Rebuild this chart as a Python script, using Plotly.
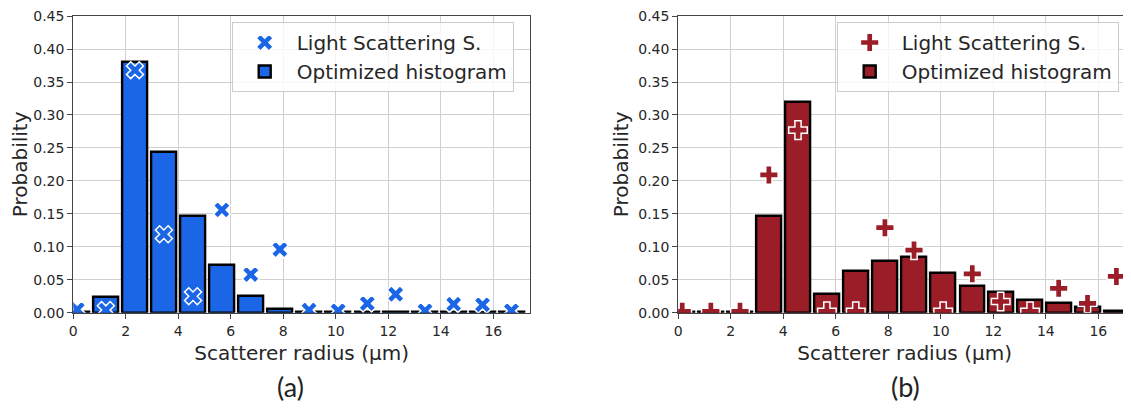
import plotly.graph_objects as go

# ---- data ----
radius = [0.15, 1.24, 2.35, 3.45, 4.56, 5.66, 6.76, 7.87, 8.98, 10.09, 11.2, 12.28, 13.4, 14.49, 15.59, 16.69]

hist_a = [0.001, 0.024, 0.380, 0.244, 0.147, 0.073, 0.026, 0.005, 0.001, 0.001, 0.001, 0.001, 0.001, 0.001, 0.001, 0.001]
lss_a = [0.005, 0.004, 0.368, 0.119, 0.025, 0.156, 0.058, 0.096, 0.004, 0.003, 0.014, 0.028, 0.003, 0.013, 0.012, 0.003]

hist_b = [0.001, 0.001, 0.001, 0.147, 0.319, 0.028, 0.064, 0.078, 0.085, 0.060, 0.041, 0.032, 0.020, 0.014, 0.009, 0.002]
lss_b = [0.002, 0.002, 0.002, 0.209, 0.277, 0.002, 0.002, 0.129, 0.095, 0.002, 0.059, 0.017, 0.002, 0.037, 0.014, 0.055]

y_ticks = [0.0, 0.05, 0.10, 0.15, 0.20, 0.25, 0.30, 0.35, 0.40, 0.45]
x_ticks = [0, 2, 4, 6, 8, 10, 12, 14, 16]

BLUE = "#1a66e6"
RED = "#9b1d27"
FONT = "DejaVu Sans"

fig = go.Figure()

# panel (a)
fig.add_trace(go.Scatter(x=radius, y=lss_a, mode="markers", name="Light Scattering S.",
                         marker=dict(symbol="x", size=15, color=BLUE, line=dict(color="white", width=1.5)),
                         xaxis="x", yaxis="y", legend="legend", cliponaxis=True))
fig.add_trace(go.Bar(x=radius, y=hist_a, width=0.95, name="Optimized histogram",
                     marker=dict(color=BLUE, line=dict(color="black", width=2.4)),
                     xaxis="x", yaxis="y", legend="legend"))

# panel (b)
fig.add_trace(go.Scatter(x=radius, y=lss_b, mode="markers", name="Light Scattering S.",
                         marker=dict(symbol="cross", size=15.5, color=RED, line=dict(color="white", width=1.5)),
                         xaxis="x2", yaxis="y2", legend="legend2", cliponaxis=True))
fig.add_trace(go.Bar(x=radius, y=hist_b, width=0.95, name="Optimized histogram",
                     marker=dict(color=RED, line=dict(color="black", width=2.4)),
                     xaxis="x2", yaxis="y2", legend="legend2"))

# page has an 8px body margin: figure is drawn from (8, 8)
OX, OY = 8, 8
W, H = 1131 - OX, 408 - OY


def px(xp):
    return (xp - OX) / W


def py(yp):
    return (H - (yp - OY)) / H


L1, R1 = 73.3, 530.0
L2, R2 = 678.3, 1131.0
TOP, BOT = 16.0, 312.7

axis_common = dict(
    showgrid=True, gridcolor="#d0d0d0", gridwidth=1,
    showline=True, linecolor="#444444", linewidth=1.2, mirror=True,
    ticks="outside", ticklen=5, tickwidth=1.2, tickcolor="#444444",
    tickfont=dict(family=FONT, size=14, color="#262626"),
    zeroline=False, automargin=False,
)

xcommon = dict(axis_common, tickvals=x_ticks, ticktext=[str(v) for v in x_ticks],
               title=dict(text="Scatterer radius (µm)", font=dict(family=FONT, size=20, color="#262626"), standoff=8))
ycommon = dict(axis_common, range=[0, 0.4502], tickvals=y_ticks, ticktext=[f"{v:.2f}" for v in y_ticks],
               title=dict(text="Probability", font=dict(family=FONT, size=20, color="#262626"), standoff=4))

px_per_unit = 26.25

legend_common = dict(xanchor="left", yanchor="top",
                     bgcolor="rgba(255,255,255,0.8)", bordercolor="#cccccc", borderwidth=1,
                     font=dict(family=FONT, size=20, color="#262626"), itemwidth=54, tracegroupgap=0)

fig.update_layout(
    width=W, height=H,
    margin=dict(l=0, r=0, t=0, b=0, autoexpand=False),
    paper_bgcolor="white", plot_bgcolor="white",
    bargap=0, barmode="overlay",
    xaxis=dict(xcommon, domain=[px(L1), px(R1)], range=[0, (R1 - L1) / px_per_unit], anchor="y"),
    yaxis=dict(ycommon, domain=[py(BOT), py(TOP)], anchor="x"),
    xaxis2=dict(xcommon, domain=[px(L2), min(1.0, px(R2))], range=[0, (R2 - L2) / px_per_unit], anchor="y2"),
    yaxis2=dict(ycommon, domain=[py(BOT), py(TOP)], anchor="x2"),
    legend=dict(legend_common, x=px(231.7), y=py(22)),
    legend2=dict(legend_common, x=px(836.7), y=py(22)),
    annotations=[
        dict(text="(a)", x=px(290), y=py(386), xref="paper", yref="paper", showarrow=False,
             xanchor="center", yanchor="middle", font=dict(family="Lato", size=27, color="#222222")),
        dict(text="(b)", x=px(905), y=py(386), xref="paper", yref="paper", showarrow=False,
             xanchor="center", yanchor="middle", font=dict(family="Lato", size=27, color="#222222")),
    ],
    showlegend=True,
)

fig.write_html("out.html")
